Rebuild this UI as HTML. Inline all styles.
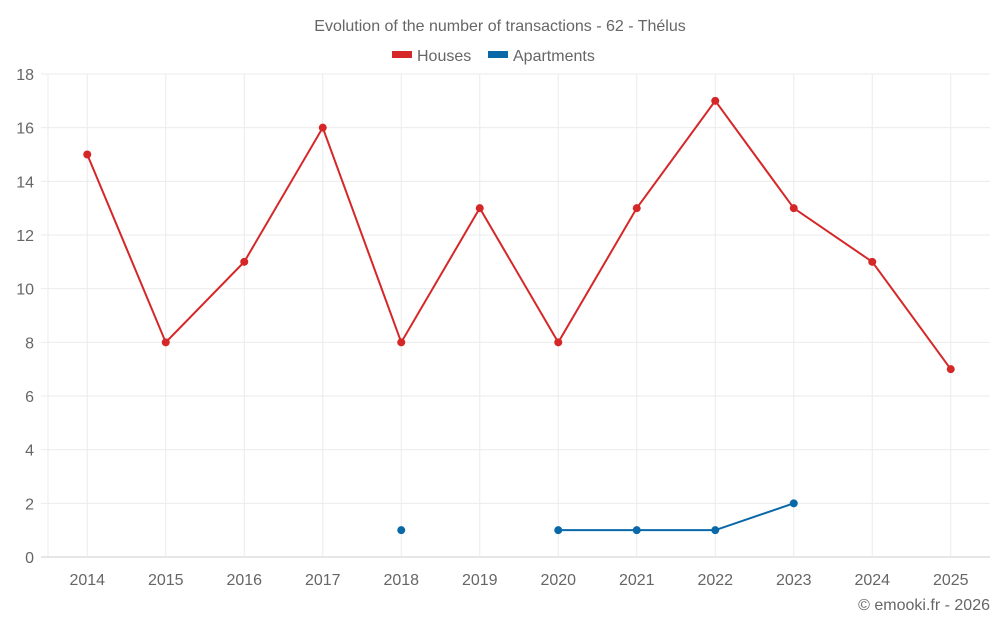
<!DOCTYPE html>
<html><head><meta charset="utf-8"><style>
body{margin:0;background:#fff;font-family:"Liberation Sans",Roboto,sans-serif;}
svg text{font-family:"Liberation Sans",sans-serif;fill:#666;}
</style></head><body>
<svg id="chart" width="1000" height="625">
<text x="500" y="31" text-anchor="middle" font-size="16">Evolution of the number of transactions - 62 - Thélus</text>
<g>
<g><rect x="392" y="51" width="20" height="7" fill="#d62728"/><text x="417" y="61" font-size="16">Houses</text></g>
<g><rect x="488" y="51" width="20" height="7" fill="#0868a8"/><text x="513" y="61" font-size="16">Apartments</text></g>
</g>
<g id="grid"></g><g id="axes"></g><g id="series"></g>
<text x="990" y="610" text-anchor="end" font-size="16">© emooki.fr - 2026</text>
</svg>
<script>
const categories=["2014","2015","2016","2017","2018","2019","2020","2021","2022","2023","2024","2025"];
const houses=[15,8,11,16,8,13,8,13,17,13,11,7];
const apartments=[null,null,null,null,1,null,1,1,1,2,null,null];
const yTicks=[0,2,4,6,8,10,12,14,16,18];
const NS="http://www.w3.org/2000/svg";
const L=48,R=990,T=74,B=557,yMax=18;
const bw=(R-L)/categories.length;
const x=i=>L+bw*(i+0.5);
const y=v=>B-(v/yMax)*(B-T);
function mk(tag,attrs,parent){const e=document.createElementNS(NS,tag);for(const k in attrs)e.setAttribute(k,attrs[k]);parent.appendChild(e);return e;}
const grid=document.getElementById('grid'),axes=document.getElementById('axes'),ser=document.getElementById('series');
yTicks.forEach(t=>{
 const l=mk('line',{x1:41,x2:R,y1:y(t),y2:y(t),stroke:t===0?'#ccc':'#ebebeb','stroke-width':1},grid);
 
 
 const tx=mk('text',{x:34,y:y(t)+6,'text-anchor':'end','font-size':16},axes);
 tx.textContent=t;
 
 
});
const edge=mk('line',{x1:L,x2:L,y1:T,y2:B,stroke:'#ebebeb','stroke-width':1},grid);


categories.forEach((c,i)=>{
 const l=mk('line',{x1:x(i),x2:x(i),y1:T,y2:B,stroke:'#ebebeb','stroke-width':1},grid);
 
 
 const tx=mk('text',{x:x(i),y:585,'text-anchor':'middle','font-size':16},axes);
 tx.textContent=c;
 
 
});
function draw(data,color,name){
 let segs=[],cur=[];
 data.forEach((v,i)=>{if(v==null){if(cur.length)segs.push(cur);cur=[];}else cur.push([x(i),y(v)]);});
 if(cur.length)segs.push(cur);
 segs.forEach(s=>{if(s.length>1){
  const p=mk('polyline',{points:s.map(q=>q.join(',')).join(' '),fill:'none',stroke:color,'stroke-width':2},ser);
  
  
 }});
 data.forEach((v,i)=>{if(v==null)return;
  const c=mk('circle',{cx:x(i),cy:y(v),r:4,fill:color},ser);
  
  
 });
}
draw(houses,'#d62728','houses');
draw(apartments,'#0868a8','apartments');
</script>
</body></html>
